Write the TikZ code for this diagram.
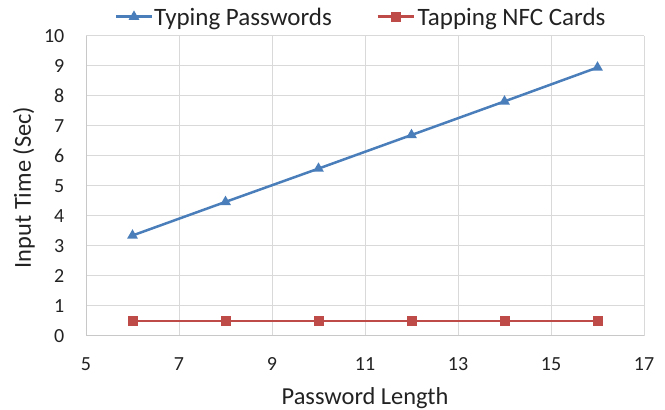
\documentclass[tikz,border=0pt]{standalone}
\usepackage{fontspec}
\setmainfont{Carlito}
\usetikzlibrary{shapes.geometric}
\definecolor{serA}{HTML}{4A7EBB}
\definecolor{serB}{HTML}{BE4B48}
\definecolor{gridc}{HTML}{D9D9D9}
\definecolor{axisc}{HTML}{C8C8C8}
\definecolor{txt}{HTML}{222222}
\tikzset{
  gridline/.style={gridc, line width=1pt},
  axisline/.style={axisc, line width=1pt},
  tri/.style={regular polygon, regular polygon sides=3, fill=serA, draw=none, inner sep=0pt, minimum size=12.5pt},
  sq/.style={rectangle, fill=serB, draw=none, inner sep=0pt, minimum size=10pt},
  ticklab/.style={font=\fontsize{20}{24}\selectfont, text=txt, inner sep=0pt},
  axlab/.style={font=\fontsize{24.4}{28}\selectfont, text=txt, inner sep=0pt},
  leglab/.style={font=\fontsize{25}{29}\selectfont, text=txt, inner sep=0pt, anchor=base west},
  lineA/.style={serA, line width=2.5pt},
  lineB/.style={serB, line width=2.5pt},
}
\begin{document}
\begin{tikzpicture}[x=1pt,y=1pt]
\useasboundingbox (0,0) rectangle (665,410);
\begin{scope}[shift={(86,74)}, x=46.5pt, y=30pt]
  % grid
  \foreach \i in {1,...,6} \draw[gridline] (2*\i,0) -- (2*\i,10);
  \foreach \j in {1,...,10} \draw[gridline] (0,\j) -- (12,\j);
  \draw[axisline] (0,0) -- (0,10);
  \draw[axisline] (0,0) -- (12,0);
  % x tick labels
  \foreach \k [count=\n] in {5,7,...,17}
    \node[ticklab, anchor=base] (xt\n) at (\k-5,0) [yshift=-34.7pt] {\k};
  % y tick labels
  \foreach \j in {0,...,10}
    \node[ticklab, anchor=east] (yt\j) at (0,\j) [xshift=-21.5pt] {\j};
  % data coordinates
  \coordinate (a1) at (1,3.35);
  \coordinate (a2) at (3,4.47);
  \coordinate (a3) at (5,5.58);
  \coordinate (a4) at (7,6.70);
  \coordinate (a5) at (9,7.82);
  \coordinate (a6) at (11,8.95);
  \coordinate (b1) at (1,0.5);
  \coordinate (b2) at (3,0.5);
  \coordinate (b3) at (5,0.5);
  \coordinate (b4) at (7,0.5);
  \coordinate (b5) at (9,0.5);
  \coordinate (b6) at (11,0.5);
  \draw[lineA, line join=round] (a1) -- (a2) -- (a3) -- (a4) -- (a5) -- (a6);
  \draw[lineB] (b1) -- (b2) -- (b3) -- (b4) -- (b5) -- (b6);
  \foreach \p in {1,...,6} {
    \node[tri] (ma\p) at (a\p) {};
    \node[sq] (mb\p) at (b\p) {};
  }
\end{scope}
% axis titles
\node[axlab, anchor=base] (xlabel) at (365,5) {Password Length};
\node[axlab, anchor=base, rotate=90] (ylabel) at (31,222.5) {Input Time (Sec)};
% legend
\coordinate (lA1) at (116,393.3);
\coordinate (lA2) at (152,393.3);
\draw[lineA] (lA1) -- (lA2);
\node[tri] (lAm) at (134,393.3) {};
\node[leglab] (lAt) at (154,384.5) {Typing Passwords};
\coordinate (lB1) at (377.5,393.3);
\coordinate (lB2) at (413.5,393.3);
\draw[lineB] (lB1) -- (lB2);
\node[sq] (lBm) at (395.5,393.3) {};
\node[leglab] (lBt) at (417.5,384.5) {Tapping NFC Cards};
\end{tikzpicture}
\end{document}
